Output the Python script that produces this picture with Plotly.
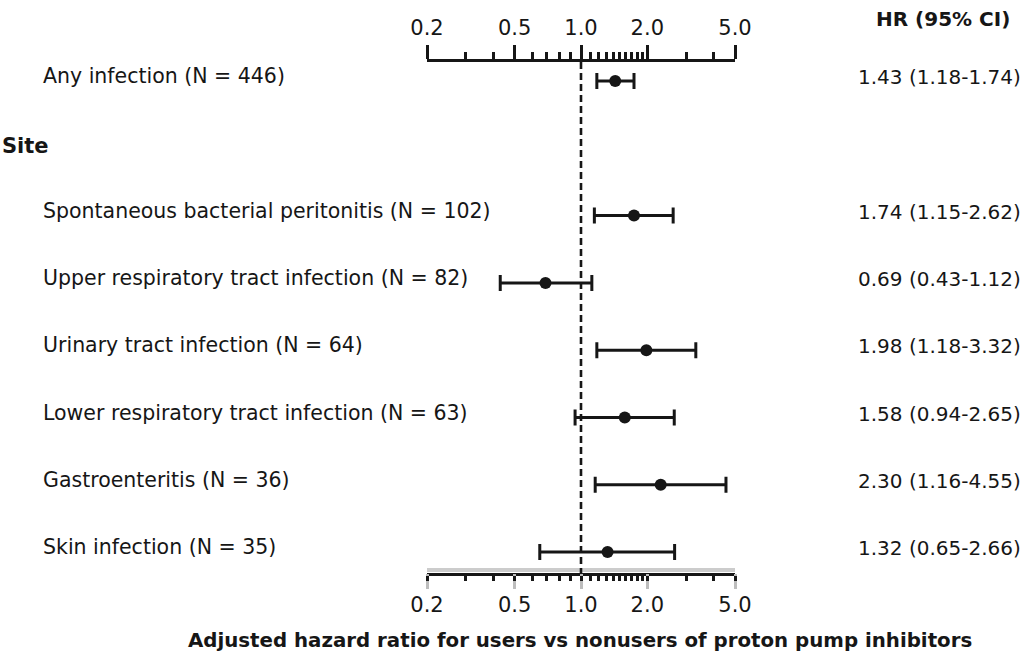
import math
import plotly.graph_objects as go

# Forest plot: adjusted hazard ratios (PPI users vs nonusers) by infection site
overall_name = "Any infection"
overall_n = 446
overall_hr = 1.43
overall_lo = 1.18
overall_hi = 1.74

site_names = [
    "Spontaneous bacterial peritonitis",
    "Upper respiratory tract infection",
    "Urinary tract infection",
    "Lower respiratory tract infection",
    "Gastroenteritis",
    "Skin infection",
]
site_n = [102, 82, 64, 63, 36, 35]
site_hr = [1.74, 0.69, 1.98, 1.58, 2.30, 1.32]
site_lo = [1.15, 0.43, 1.18, 0.94, 1.16, 0.65]
site_hi = [2.62, 1.12, 3.32, 2.65, 4.55, 2.66]

major_ticks = [0.2, 0.5, 1.0, 2.0, 5.0]
major_labels = ["0.2", "0.5", "1.0", "2.0", "5.0"]
minor_ticks = [0.3, 0.4, 0.6, 0.7, 0.8, 0.9, 1.1, 1.2, 1.3, 1.4, 1.5,
               1.6, 1.7, 1.8, 1.9, 3.0, 4.0]

x_title = "Adjusted hazard ratio for users vs nonusers of proton pump inhibitors"

# Row layout: row 0 = overall, row 1 = "Site" header, rows 2.. = sites
names = [overall_name] + site_names
ns = [overall_n] + site_n
hrs = [overall_hr] + site_hr
los = [overall_lo] + site_lo
his = [overall_hi] + site_hi
rows = [0] + [i + 2 for i in range(len(site_names))]

INK = "#161616"
GHOST = "#bdbdbd"
FONT = "DejaVu Sans"
W, H = 1024, 656

# Pixel frame of the plotting area
x_left_px, x_right_px = 427, 735
y_top_px, y_bot_px = 62, 573
row0_px, row_step_px = 81, 67.3
y_top_val = -(row0_px - y_top_px) / row_step_px
y_bot_val = (y_bot_px - row0_px) / row_step_px
x_range = [math.log10(0.2), math.log10(5.0)]
x_domain = [x_left_px / W, x_right_px / W]

fig = go.Figure()

fig.add_trace(go.Scatter(
    x=hrs, y=rows, mode="markers",
    marker=dict(color=INK, size=12, symbol="circle"),
    error_x=dict(
        type="data", symmetric=False,
        array=[h - m for h, m in zip(his, hrs)],
        arrayminus=[m - l for m, l in zip(hrs, los)],
        color=INK, thickness=3, width=8,
    ),
    hoverinfo="skip", showlegend=False, xaxis="x", yaxis="y",
))
# companion traces so the overlaid axes are drawn
for ax in ("x2", "x3"):
    fig.add_trace(go.Scatter(x=[1.0], y=[0], mode="markers",
                             marker=dict(opacity=0), hoverinfo="skip",
                             showlegend=False, xaxis=ax, yaxis="y"))

tick_font = dict(family=FONT, size=21, color=INK)

fig.update_layout(
    width=W, height=H, autosize=False,
    margin=dict(l=0, r=0, t=0, b=0, pad=0, autoexpand=False),
    paper_bgcolor="white", plot_bgcolor="white",
    showlegend=False,
    # bottom axis: long pale major ticks carrying the labels
    xaxis=dict(
        type="log", range=x_range, domain=x_domain, anchor="y", side="bottom",
        showline=False, showgrid=False, zeroline=False, automargin=False,
        ticks="outside", ticklen=15, tickwidth=3, tickcolor=GHOST,
        tickmode="array", tickvals=major_ticks, ticktext=major_labels,
        tickfont=tick_font, ticklabelstandoff=-2, fixedrange=True,
    ),
    # top axis
    xaxis2=dict(
        type="log", range=x_range, domain=x_domain, anchor="y", side="top",
        overlaying="x", matches="x", automargin=False,
        showline=True, linewidth=3, linecolor=INK,
        showgrid=False, zeroline=False,
        ticks="outside", ticklen=14, tickwidth=3, tickcolor=INK,
        tickmode="array", tickvals=major_ticks, ticktext=major_labels,
        minor=dict(tickmode="array", tickvals=minor_ticks, ticks="outside",
                   ticklen=7, tickwidth=3, tickcolor=INK, showgrid=False),
        tickfont=tick_font, ticklabelstandoff=2, fixedrange=True,
    ),
    # bottom axis line with short dark ticks
    xaxis3=dict(
        type="log", range=x_range, domain=x_domain, anchor="y", side="bottom",
        overlaying="x", matches="x", automargin=False,
        showline=True, linewidth=3, linecolor=INK,
        showgrid=False, zeroline=False,
        ticks="outside", ticklen=5, tickwidth=3, tickcolor=INK,
        tickmode="array", tickvals=sorted(major_ticks + minor_ticks),
        showticklabels=False, fixedrange=True,
    ),
    yaxis=dict(
        range=[y_bot_val, y_top_val],
        domain=[1 - y_bot_px / H, 1 - y_top_px / H],
        visible=False, fixedrange=True, automargin=False,
    ),
)

# pale rule just above the bottom axis line
fig.add_shape(type="line", xref="x", yref="paper", x0=0.2, x1=5.0,
              y0=1 - 570 / H, y1=1 - 570 / H, layer="below",
              line=dict(color="#cccccc", width=4))

# Reference line at HR = 1
fig.add_shape(type="line", xref="x", yref="y", x0=1.0, x1=1.0,
              y0=y_top_val, y1=y_bot_val,
              line=dict(color=INK, width=2.6, dash="7px,4px"))

row_font = dict(family=FONT, size=20.5, color=INK)
ci_font = dict(family=FONT, size=20, color=INK)
bold_font = dict(family=FONT, size=20, color=INK)

# Row labels and HR (95% CI) text
for name, n, hr, lo, hi, r in zip(names, ns, hrs, los, his, rows):
    fig.add_annotation(xref="paper", yref="y", x=41 / W, y=r, yshift=5,
                       text=f"{name} (N = {n})", showarrow=False,
                       xanchor="left", yanchor="middle", font=row_font)
    fig.add_annotation(xref="paper", yref="y", x=856 / W, y=r, yshift=4,
                       text=f"{hr:.2f} ({lo:.2f}-{hi:.2f})", showarrow=False,
                       xanchor="left", yanchor="middle", font=ci_font)

fig.add_annotation(xref="paper", yref="y", x=0, y=1, yshift=2,
                   text="<b>Site</b>", showarrow=False,
                   xanchor="left", yanchor="middle",
                   font=dict(bold_font, size=21))
fig.add_annotation(xref="paper", yref="paper", x=943 / W, y=1 - 19 / H,
                   text="<b>HR (95% CI)</b>", showarrow=False,
                   xanchor="center", yanchor="middle", font=bold_font)
fig.add_annotation(xref="paper", yref="paper", x=580 / W, y=1 - 640 / H,
                   text=f"<b>{x_title}</b>", showarrow=False,
                   xanchor="center", yanchor="middle",
                   font=dict(bold_font, size=19.8))

fig.write_html("out.html")
